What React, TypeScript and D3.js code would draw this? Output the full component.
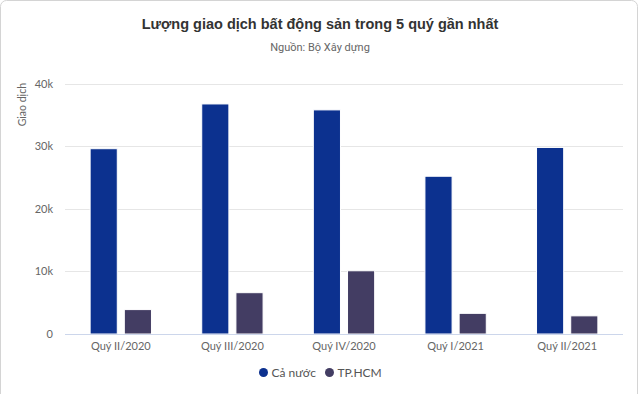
import React, { useEffect, useRef } from "react";
import * as d3 from "d3";

const categories = ["Quý II/2020", "Quý III/2020", "Quý IV/2020", "Quý I/2021", "Quý II/2021"];
const seriesNames = ["Cả nước", "TP.HCM"];
const caNuoc = [29600, 36750, 35800, 25200, 29800];
const tpHcm = [3900, 6600, 10100, 3300, 2900];
const yTicks = [0, 10000, 20000, 30000, 40000];
const colors = ["#0c318f", "#433d63"];

const W = 640;
const H = 394;

const App = () => {
  const svgRef = useRef<SVGSVGElement | null>(null);

  useEffect(() => {
    if (!svgRef.current) return;
    const svg = d3.select(svgRef.current);
    svg.selectAll("*").remove();

    const margin = { top: 84, right: 17, bottom: 60, left: 65 };
    const innerBottom = 334;

    // outer frame
    svg.append("rect")
      .attr("x", 0.5).attr("y", 0.5)
      .attr("width", W - 3).attr("height", H + 10)
      .attr("rx", 6)
      .attr("fill", "#fff")
      .attr("stroke", "#d4d4d4");

    svg.append("text")
      .attr("x", W / 2).attr("y", 29)
      .attr("text-anchor", "middle")
      .style("font-family", "'Liberation Sans', Arial, sans-serif")
      .style("font-weight", "bold")
      .style("font-size", "14.5px")
      .style("fill", "#333")
      .text("Lượng giao dịch bất động sản trong 5 quý gần nhất");

    svg.append("text")
      .attr("x", W / 2).attr("y", 51)
      .attr("text-anchor", "middle")
      .style("font-family", "Roboto, sans-serif")
      .style("font-size", "11px")
      .style("fill", "#666")
      .text("Nguồn: Bộ Xây dựng");

    const x0 = d3.scaleBand<string>()
      .domain(categories)
      .range([margin.left, W - margin.right])
      .padding(0);

    const x1 = d3.scaleBand<string>()
      .domain(seriesNames)
      .range([0, x0.bandwidth()])
      .paddingInner(0.206)
      .paddingOuter(0.735);

    const y = d3.scaleLinear()
      .domain([0, 40000])
      .range([innerBottom, margin.top - 0.4]);

    // gridlines
    svg.append("g")
      .selectAll("line")
      .data(yTicks.filter(t => t > 0))
      .enter()
      .append("line")
      .attr("x1", margin.left).attr("x2", W - margin.right)
      .attr("y1", d => Math.round(y(d)) + 0.5)
      .attr("y2", d => Math.round(y(d)) + 0.5)
      .attr("stroke", "#e6e6e6");

    // y tick labels
    const yAxis = svg.append("g")
      .attr("transform", `translate(${margin.left - 12},0)`)
      .call(d3.axisLeft(y).tickValues(yTicks).tickSize(0).tickPadding(0)
        .tickFormat(d => (+d === 0 ? "0" : `${+d / 1000}k`)));
    yAxis.select(".domain").remove();
    yAxis.selectAll("text")
      .style("font-family", "Lato, sans-serif")
      .style("font-size", "11px")
      .style("fill", "#666");

    // y axis title
    svg.append("text")
      .attr("transform", `translate(26, ${margin.top - 1}) rotate(-90)`)
      .attr("text-anchor", "end")
      .style("font-family", "Lato, sans-serif")
      .style("font-size", "10.5px")
      .style("fill", "#666")
      .text("Giao dịch");

    // bars
    const seriesData = [caNuoc, tpHcm];
    seriesData.forEach((vals, si) => {
      svg.append("g")
        .selectAll("rect")
        .data(vals)
        .enter()
        .append("rect")
        .attr("x", (_, i) => (x0(categories[i]) ?? 0) + (x1(seriesNames[si]) ?? 0))
        .attr("y", d => y(d))
        .attr("width", x1.bandwidth())
        .attr("height", d => innerBottom - y(d))
        .attr("fill", colors[si])
        .attr("stroke", "#fff")
        .attr("stroke-width", 1);
    });

    // x axis line
    svg.append("line")
      .attr("x1", margin.left).attr("x2", W - margin.right)
      .attr("y1", innerBottom + 0.5).attr("y2", innerBottom + 0.5)
      .attr("stroke", "#ccd6eb");

    // x tick labels
    svg.append("g")
      .selectAll("text")
      .data(categories)
      .enter()
      .append("text")
      .attr("x", d => (x0(d) ?? 0) + x0.bandwidth() / 2)
      .attr("y", 350)
      .attr("text-anchor", "middle")
      .style("font-family", "Lato, sans-serif")
      .style("font-size", "11px")
      .style("fill", "#666")
      .text(d => d);

    // legend
    const legendX = [263.5, 329.5];
    const legend = svg.append("g");
    seriesNames.forEach((name, i) => {
      legend.append("circle")
        .attr("cx", legendX[i]).attr("cy", 372.5)
        .attr("r", 4.5)
        .attr("fill", colors[i]);
      legend.append("text")
        .attr("x", legendX[i] + 8).attr("y", 377)
        .style("font-family", "Lato, sans-serif")
        .style("font-size", "12px")
        .style("fill", "#555")
        .text(name);
    });
  }, []);

  return (
    <svg ref={svgRef} width={W} height={H}
      style={{ position: "absolute", left: 0, top: 0, display: "block" }} />
  );
};

export default App;
